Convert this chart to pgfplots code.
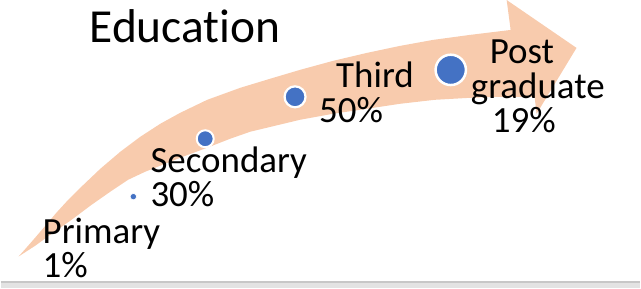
\documentclass[border=0pt]{standalone}
\usepackage{pgfplots}
\pgfplotsset{compat=1.18}
\usepackage{fontspec}
\setmainfont[Ligatures=NoCommon]{Carlito}
\definecolor{peach}{HTML}{F8CBAD}
\definecolor{dotblue}{HTML}{4472C4}
\newcommand{\lab}{\fontsize{37}{37}\selectfont}
\newcommand{\ttl}{\fontsize{47.5}{47.5}\selectfont}
\begin{document}
\begin{tikzpicture}
\begin{axis}[
  width=641pt, height=289pt, scale only axis,
  xmin=0, xmax=641, ymin=0, ymax=289, y dir=reverse,
  hide axis, clip=false]
% background band at the bottom
\addplot[fill=black!11, draw=none] coordinates {(0,282) (641,282) (641,289) (0,289)} -- cycle;
\addplot[draw=black!22, line width=1.2pt] coordinates {(0,282.5) (641,282.5)};
% arrow
\addplot[fill=peach, draw=none] coordinates {
(18,257) (26,248) (33,240) (45,226) (56,213) (67,201) (80,188) (100,169)
(120,152) (140,137) (160,124) (180,113) (207,100) (240,88) (273,78) (300,70)
(333,61) (367,53) (400,46) (433,40) (470,35) (511,30)
(507,0) (577,48) (537,114) (535,97)
(500,97) (470,98) (435,100) (400,104) (367,109) (333,114) (300,120)
(275,126) (250,132) (230,139) (207,148) (180,158) (160,166) (145,172)
(128,180) (110,192) (90,206) (70,221) (50,235) (35,246) (18,257)} -- cycle;
% dots
\addplot[only marks, mark=*, mark size=3.2pt, mark options={fill=dotblue, draw=white, line width=0.6pt}] coordinates {(133,197)};
\addplot[only marks, mark=*, mark size=8.5pt, mark options={fill=dotblue, draw=white, line width=2pt}] coordinates {(205,139)};
\addplot[only marks, mark=*, mark size=10.5pt, mark options={fill=dotblue, draw=white, line width=2.2pt}] coordinates {(295,97)};
\addplot[only marks, mark=*, mark size=15.2pt, mark options={fill=dotblue, draw=white, line width=2.5pt}] coordinates {(451,70)};
% labels
\node[anchor=base west, inner sep=0, font=\ttl] at (axis cs:89,43) {Education};
\node[anchor=base west, inner sep=0, font=\lab] at (axis cs:42,244) {Primary};
\node[anchor=base west, inner sep=0, font=\lab] at (axis cs:42,278) {1\%};
\node[anchor=base west, inner sep=0, font=\lab] at (axis cs:150,173) {Secondary};
\node[anchor=base west, inner sep=0, font=\lab] at (axis cs:150,207) {30\%};
\node[anchor=base west, inner sep=0, font=\lab] at (axis cs:336,88) {Third};
\node[anchor=base west, inner sep=0, font=\lab] at (axis cs:319,123) {50\%};
\node[anchor=base west, inner sep=0, font=\lab] at (axis cs:490,64) {Post};
\node[anchor=base west, inner sep=0, font=\lab] at (axis cs:471,99) {graduate};
\node[anchor=base west, inner sep=0, font=\lab] at (axis cs:492,133) {19\%};
\end{axis}
\end{tikzpicture}
\end{document}
